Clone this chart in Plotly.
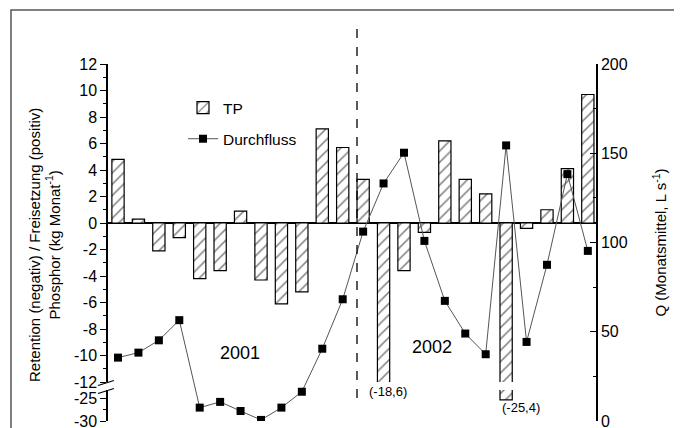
import plotly.graph_objects as go

# ---- data ----
months = list(range(1, 25))  # Jan 2001 .. Dec 2002
tp = [4.8, 0.3, -2.1, -1.1, -4.2, -3.6, 0.9, -4.3, -6.1, -5.2, 7.1, 5.7,
      3.3, -18.6, -3.6, -0.7, 6.2, 3.3, 2.2, -25.4, -0.4, 1.0, 4.1, 9.7]
durchfluss = [35.5, 38.3, 45.2, 56.5, 7.5, 10.7, 5.6, 0.6, 7.5, 16.4, 40.5, 68.2,
              106.1, 133.1, 150.3, 100.9, 67.3, 49.0, 37.4, 154.4, 44.3, 87.5, 138.3, 95.3]
upper_ticks = [-12, -10, -8, -6, -4, -2, 0, 2, 4, 6, 8, 10, 12]
upper_labels = [str(v) for v in upper_ticks]
lower_ticks = [-30, -25]
lower_labels = ["-30", "-25"]
right_ticks = [0, 50, 100, 150, 200]
right_labels = [str(v) for v in right_ticks]

FONT = "Liberation Sans, Arial, sans-serif"

# The page body has an 8px margin, so the figure is drawn 8px in from the window edge.
OFF = 8
W, H = 682 - OFF, 428 - OFF
# plot area in window pixels: x 108..596, y 64..421
PL, PR, PT, PB = 108, 596, 64, 421


def px(xp):
    return (xp - PL) / float(PR - PL)


def py(yp):
    return (PB - yp) / float(PB - PT)


bar_marker = dict(
    color="white",
    line=dict(color="black", width=1.2),
    pattern=dict(shape="/", fgcolor="#111", bgcolor="white", size=8, solidity=0.2, fillmode="overlay"),
)

fig = go.Figure()
fig.add_trace(go.Bar(x=months, y=tp, width=0.6, marker=bar_marker, name="TP",
                     xaxis="x", yaxis="y", legendgroup="a", showlegend=True))
fig.add_trace(go.Bar(x=months, y=tp, width=0.6, marker=bar_marker, name="TP",
                     xaxis="x", yaxis="y3", legendgroup="a", showlegend=False))
fig.add_trace(go.Scatter(x=months, y=durchfluss, mode="lines+markers", name="Durchfluss",
                         line=dict(color="#555", width=1),
                         marker=dict(symbol="square", size=8, color="black"),
                         xaxis="x", yaxis="y2", legendgroup="b"))

axis_common = dict(showgrid=False, automargin=False, ticklabeloverflow="allow",
                   tickfont=dict(family=FONT, size=16, color="black"),
                   linecolor="black", linewidth=1.5, showline=True,
                   tickcolor="black", tickwidth=1.2)

fig.update_layout(
    width=W, height=H,
    margin=dict(l=PL - OFF, r=W - (PR - OFF), t=PT - OFF, b=H - (PB - OFF)),
    paper_bgcolor="white", plot_bgcolor="rgba(0,0,0,0)",
    barmode="overlay",
    font=dict(family=FONT, color="black"),
    xaxis=dict(range=[0.51, 24.40], visible=False),
    yaxis=dict(domain=[py(382), 1.0], range=[-12, 12], tickvals=upper_ticks, ticktext=upper_labels,
               ticks="outside", ticklen=6,
               minor=dict(dtick=1, ticks="outside", ticklen=3, tickcolor="black"),
               anchor="x", zeroline=True, zerolinecolor="black", zerolinewidth=1.5,
               **axis_common),
    yaxis3=dict(domain=[0, py(390)], range=[-30, -23.26], tickvals=lower_ticks, ticktext=lower_labels,
                ticks="outside", ticklen=6,
                minor=dict(tickvals=[-27.5], ticks="outside", ticklen=3, tickcolor="black"),
                anchor="x", zeroline=False, **axis_common),
    yaxis2=dict(domain=[0, 1], range=[0, 200], tickvals=right_ticks, ticktext=right_labels, side="right",
                ticks="inside", ticklen=6,
                minor=dict(dtick=25, ticks="inside", ticklen=3, tickcolor="black"),
                anchor="x", zeroline=False,
                title=dict(text="Q (Monatsmittel, L s<sup>-1</sup>)",
                           font=dict(family=FONT, size=15), standoff=29),
                **axis_common),
    legend=dict(x=px(183), y=py(91), xanchor="left", yanchor="top",
                bgcolor="rgba(0,0,0,0)", traceorder="grouped", tracegroupgap=8,
                font=dict(family=FONT, size=15.5)),
    showlegend=True,
)

annotations = [
    dict(text="Retention (negativ) / Freisetzung (positiv)<br>Phosphor (kg Monat<sup>-1</sup>)",
         xref="paper", yref="paper", x=px(44), y=py(245), xanchor="center", yanchor="middle",
         textangle=-90, showarrow=False, font=dict(family=FONT, size=15), align="center"),
    dict(text="2001", xref="x", yref="paper", x=6.97, y=py(365), showarrow=False,
         font=dict(family=FONT, size=18)),
    dict(text="2002", xref="x", yref="paper", x=16.36, y=py(359), showarrow=False,
         font=dict(family=FONT, size=18)),
    dict(text="(-18,6)", xref="x", yref="paper", x=14.23, y=py(401), showarrow=False,
         font=dict(family=FONT, size=13)),
    dict(text="(-25,4)", xref="x", yref="paper", x=20.73, y=py(417), showarrow=False,
         font=dict(family=FONT, size=13)),
]
fig.update_layout(annotations=annotations)

shapes = [
    # outer frame
    dict(type="rect", xref="paper", yref="paper", x0=px(11), x1=px(677), y0=-0.1, y1=py(10),
         line=dict(color="#555", width=1.5), layer="below"),
    # dashed divider between years
    dict(type="line", xref="x", yref="paper", x0=12.7, x1=12.7, y0=py(398), y1=py(22),
         line=dict(color="black", width=1.3, dash="dash")),
    # axis break marks
    dict(type="line", xref="paper", yref="paper", x0=px(98), x1=px(114), y0=py(385.5), y1=py(380.5),
         line=dict(color="black", width=1.3)),
    dict(type="line", xref="paper", yref="paper", x0=px(98), x1=px(114), y0=py(393.5), y1=py(388.5),
         line=dict(color="black", width=1.3)),
]
fig.update_layout(shapes=shapes)

fig.write_html("out.html")
